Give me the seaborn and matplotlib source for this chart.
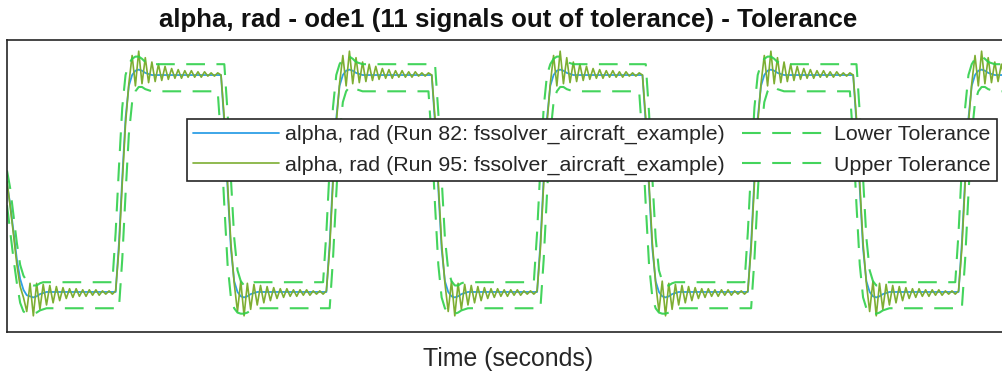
import numpy as np
import pandas as pd
import matplotlib
matplotlib.use('Agg')
import matplotlib.pyplot as plt
import seaborn as sns

# sampling of the logged signals (seconds)
sample_step = 0.15625
n_samples = 306

# first samples after t = 0 (the run starts from alpha = 0)
run82_start = [0.00, -0.20, -0.45, -0.70, -0.88, -0.98, -1.03, -1.04]
run95_start = [0.02, -0.22, -0.48, -0.75, -0.95, -1.05, -1.18, -0.92]
upper_start = [0.12, -0.05, -0.30, -0.55, -0.75, -0.85, -0.90, -0.93]
lower_start = [-0.20, -0.45, -0.70, -0.92, -1.10, -1.18, -1.20, -1.20]

# one period of the square-wave response, starting at a falling edge
run82_period = [1.00, 0.55, -0.05, -0.60, -0.90, -1.00, -1.04, -1.05, -1.04, -1.02,
                -1.01, -1.00, -1.00, -1.00, -1.00, -1.00, -1.00, -1.00, -1.00, -1.00,
                -1.00, -1.00, -1.00, -1.00, -1.00, -1.00, -1.00, -1.00, -1.00, -1.00,
                -1.00, -1.00, -1.00, -0.55, 0.05, 0.60, 0.90, 1.00, 1.04, 1.05,
                1.04, 1.02, 1.01, 1.00, 1.00, 1.00, 1.00, 1.00, 1.00, 1.00,
                1.00, 1.00, 1.00, 1.00, 1.00, 1.00, 1.00, 1.00, 1.00, 1.00,
                1.00, 1.00, 1.00, 1.00]
run95_period = [1.00, 0.60, 0.00, -0.55, -0.92, -1.18, -0.90, -1.22, -0.92, -1.16,
                -0.93, -1.12, -0.94, -1.10, -0.95, -1.08, -0.96, -1.06, -0.97, -1.05,
                -0.97, -1.04, -0.98, -1.04, -0.98, -1.03, -0.98, -1.03, -0.99, -1.02,
                -0.99, -1.02, -0.99, -0.60, 0.00, 0.55, 0.92, 1.18, 0.90, 1.22,
                0.92, 1.16, 0.93, 1.12, 0.94, 1.10, 0.95, 1.08, 0.96, 1.06,
                0.97, 1.05, 0.97, 1.04, 0.98, 1.04, 0.98, 1.03, 0.98, 1.03,
                0.99, 1.02, 0.99, 1.02]
upper_period = [1.10, 1.10, 0.65, 0.05, -0.50, -0.80, -0.90, -0.94, -0.94, -0.92,
                -0.91, -0.91, -0.91, -0.91, -0.91, -0.91, -0.91, -0.91, -0.91, -0.91,
                -0.91, -0.91, -0.91, -0.91, -0.91, -0.91, -0.91, -0.91, -0.91, -0.91,
                -0.91, -0.91, -0.45, 0.15, 0.70, 1.00, 1.10, 1.15, 1.17, 1.17,
                1.15, 1.12, 1.11, 1.10, 1.10, 1.10, 1.10, 1.10, 1.10, 1.10,
                1.10, 1.10, 1.10, 1.10, 1.10, 1.10, 1.10, 1.10, 1.10, 1.10,
                1.10, 1.10, 1.10, 1.10]
lower_period = [0.40, -0.20, -0.75, -1.05, -1.15, -1.19, -1.20, -1.20, -1.19, -1.17,
                -1.16, -1.15, -1.15, -1.15, -1.15, -1.15, -1.15, -1.15, -1.15, -1.15,
                -1.15, -1.15, -1.15, -1.15, -1.15, -1.15, -1.15, -1.15, -1.15, -1.15,
                -1.15, -1.15, -1.15, -1.15, -0.70, -0.10, 0.45, 0.75, 0.85, 0.89,
                0.89, 0.87, 0.86, 0.85, 0.85, 0.85, 0.85, 0.85, 0.85, 0.85,
                0.85, 0.85, 0.85, 0.85, 0.85, 0.85, 0.85, 0.85, 0.85, 0.85,
                0.85, 0.85, 0.85, 0.85]

labels = ['alpha, rad (Run 82: fssolver_aircraft_example)',
          'alpha, rad (Run 95: fssolver_aircraft_example)',
          'Lower Tolerance',
          'Upper Tolerance']


def build(start, period):
    vals = np.concatenate([[period[-1]], np.tile(period, 5)])[:n_samples]
    vals[:len(start)] = start
    return vals


time = np.arange(n_samples) * sample_step
df = pd.DataFrame({'time': time,
                   labels[0]: build(run82_start, run82_period),
                   labels[1]: build(run95_start, run95_period),
                   labels[2]: build(lower_start, lower_period),
                   labels[3]: build(upper_start, upper_period)})

sns.set_style('white')
plt.rcParams['font.family'] = ['Liberation Sans', 'DejaVu Sans']

fig = plt.figure(figsize=(10.03, 3.78), dpi=100)
ax = fig.add_axes([7 / 1003, 46 / 378, 1002 / 1003, 292 / 378])

sns.lineplot(x='time', y=labels[0], data=df, ax=ax, color='#2E9FE6', linewidth=1.3, label=labels[0])
sns.lineplot(x='time', y=labels[1], data=df, ax=ax, color='#7DAE32', linewidth=1.2, label=labels[1])
sns.lineplot(x='time', y=labels[2], data=df, ax=ax, color='#2FD04A', linewidth=1.5,
             linestyle=(0, (9, 5.5)), alpha=0.9, label=labels[2])
sns.lineplot(x='time', y=labels[3], data=df, ax=ax, color='#2FD04A', linewidth=1.5,
             linestyle=(0, (9, 5.5)), alpha=0.9, label=labels[3])

ax.set_xlim(0, 47.55)
ax.set_ylim(-1.369, 1.323)
ax.set_xticks([])
ax.set_yticks([])
ax.set_ylabel('')
ax.set_xlabel('Time (seconds)', fontsize=17.9, color='#262626', labelpad=11)
ax.set_title('alpha, rad - ode1 (11 signals out of tolerance) - Tolerance',
             fontsize=18.6, fontweight='bold', color='#111111', pad=9)
for side in ['top', 'left', 'bottom', 'right']:
    ax.spines[side].set_color('#262626')
    ax.spines[side].set_linewidth(1.2)

leg = ax.legend(loc='upper right', bbox_to_anchor=(997 / 1003, 1 - 119 / 378),
                bbox_transform=fig.transFigure, borderaxespad=0, ncol=2,
                fontsize=15.4, handlelength=4.0, handletextpad=0.3,
                columnspacing=0.8, labelspacing=0.53, borderpad=0.29,
                fancybox=False, framealpha=1, edgecolor='#262626')
leg.get_frame().set_linewidth(1.2)
for txt in leg.get_texts():
    txt.set_color('#262626')

fig.savefig('out.png', dpi=100)
